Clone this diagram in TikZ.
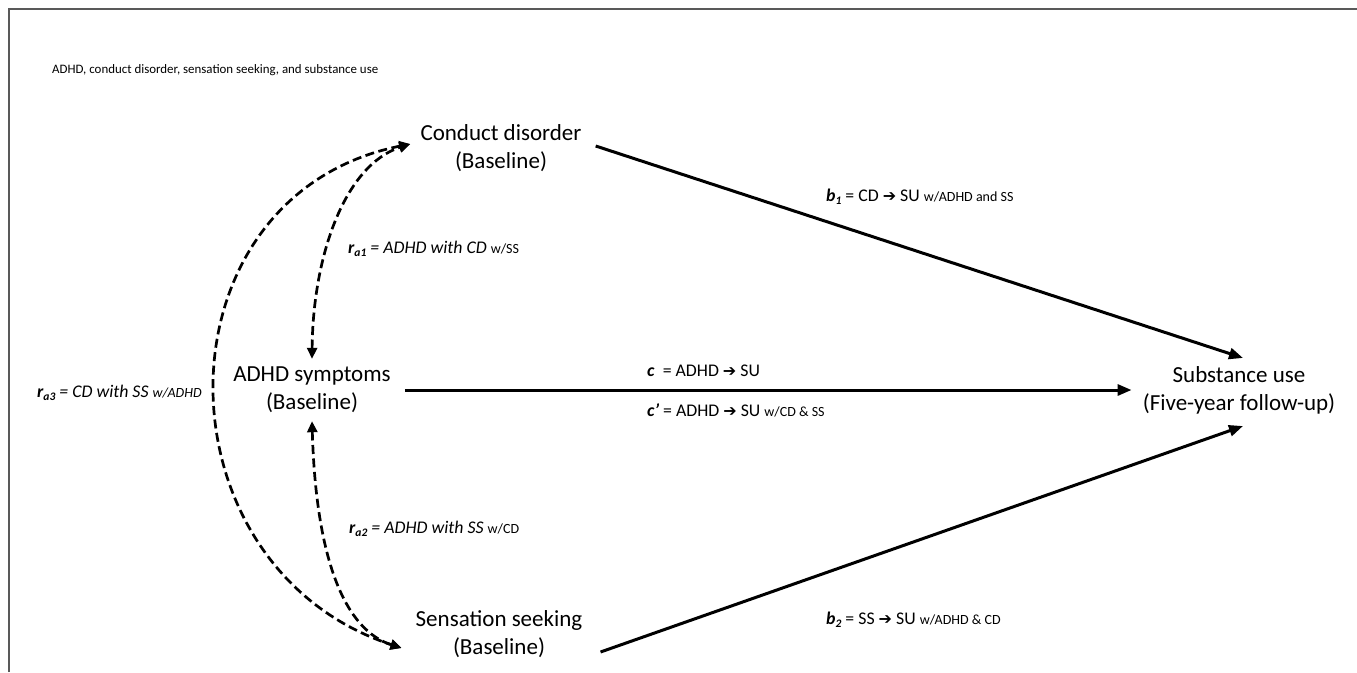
\documentclass[tikz,border=0pt]{standalone}
\usepackage{fontspec}
\setmainfont{Carlito}
\newfontfamily\dejavu{DejaVu Sans}
\usetikzlibrary{arrows.meta,calc}
\newcommand\hvarr{{\dejavu\fontsize{16}{16}\selectfont ➔}}
\newcommand\subsc[1]{\raisebox{-0.35ex}{\fontsize{11.5}{11.5}\selectfont #1}}
\newcommand\smalltxt[1]{{\fontsize{14}{16}\selectfont #1}}
\begin{document}
\begin{tikzpicture}[x=1pt,y=-1pt,
  varnode/.style={align=center,font=\fontsize{23}{28}\selectfont,inner sep=8pt},
  lbl/.style={anchor=west,inner sep=0pt,font=\fontsize{17.8}{20}\selectfont},
  pathline/.style={line width=3pt,-{Triangle[length=14pt,width=11pt]}},
  corr/.style={line width=2.7pt,dash pattern=on 9pt off 4.5pt,
    {Triangle[length=11pt,width=10pt]}-{Triangle[length=11pt,width=10pt]}}]
\useasboundingbox (0,0) rectangle (1357,672);
\draw[line width=2pt,black!65] (8.5,672) -- (8.5,8.5) -- (1357,8.5);

\node[anchor=west,inner sep=0pt,font=\fontsize{12.9}{15}\selectfont] (title) at (52,70)
  {ADHD, conduct disorder, sensation seeking, and substance use};

\node[varnode] (cd) at (501,148) {Conduct disorder\\(Baseline)};
\node[varnode] (adhd) at (312,390) {ADHD symptoms\\(Baseline)};
\node[varnode] (ss) at (499,634) {Sensation seeking\\(Baseline)};
\node[varnode] (su) at (1239,390) {Substance use\\(Five-year follow-up)};

\draw[pathline] ($(cd.east)+(6,-2)$) -- ($(su.north)+(4,0)$);
\draw[pathline] ($(adhd.east)+(6,0)$) -- ($(su.west)+(-3,0)$);
\draw[pathline] ($(ss.east)+(10,18)$) -- ($(su.south)+(4,4)$);

\coordinate (cdin) at ($(cd.west)+(-2,-4)$);
\coordinate (ssin) at ($(ss.west)+(-6,14)$);
\draw[corr] (adhd.north) .. controls (313,255) and (345,165) .. (cdin);
\draw[corr] (cdin) .. controls (152,196) and (152,566) .. (ssin);
\draw[corr] (adhd.south) .. controls (316,560) and (345,630) .. (ssin);

\node[lbl] (lb1) at (826,197) {\textbf{\textit{b\subsc{1}}} = CD \hvarr{} SU \smalltxt{w/ADHD and SS}};
\node[lbl] (lra1) at (348,249) {\textit{\textbf{r\subsc{a1}} = ADHD with CD} \smalltxt{w/SS}};
\node[lbl] (lra3) at (37,393) {\textit{\textbf{r\subsc{a3}} = CD with SS \smalltxt{w/ADHD}}};
\node[lbl] (lc) at (647,371) {\textbf{\textit{c}}\ \ = ADHD \hvarr{} SU};
\node[lbl] (lcp) at (647,410) {\textbf{\textit{c’}} = ADHD \hvarr{} SU \smalltxt{w/CD \& SS}};
\node[lbl] (lra2) at (349,529) {\textit{\textbf{r\subsc{a2}} = ADHD with SS} \smalltxt{w/CD}};
\node[lbl] (lb2) at (826,620) {\textbf{\textit{b\subsc{2}}} = SS \hvarr{} SU \smalltxt{w/ADHD \& CD}};
\end{tikzpicture}
\end{document}
